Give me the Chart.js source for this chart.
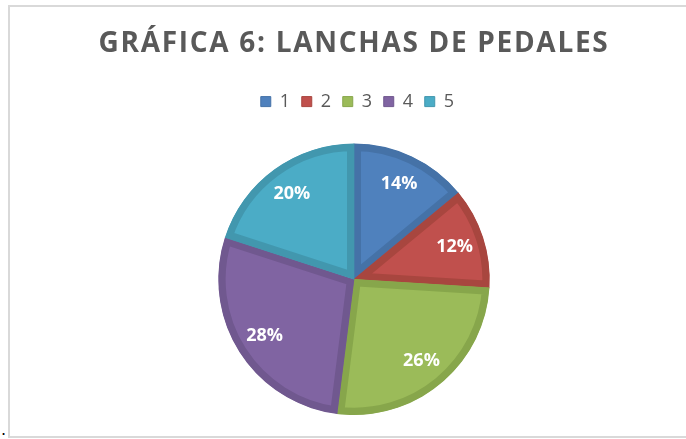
<!DOCTYPE html>
<html>
<head>
<meta charset="utf-8">
<script src="https://cdn.jsdelivr.net/npm/chart.js@4.4.0/dist/chart.umd.min.js"></script>
<style>
  html, body { margin: 0; padding: 0; background: #fff; }
  #wrap { position: relative; width: 686px; height: 439px; overflow: hidden; }
  #frame { position: absolute; left: 8px; top: 5px; width: 720px; height: 429px; border: 2px solid #d9d9d9; box-sizing: content-box; }
  #dot { position: absolute; left: 1px; top: 420px; font: 16px "DejaVu Sans"; color: #000; }
  canvas { position: absolute; left: 0; top: 0; }
</style>
</head>
<body>
<div id="wrap">
  <div id="frame"></div>
  <span id="dot">.</span>
  <canvas id="chart" width="686" height="439"></canvas>
</div>
<script>
// --- chart data ---
const categories = ['1', '2', '3', '4', '5'];
const shares = [14, 12, 26, 28, 20];
const fillColors = ['#4F81BD', '#C0504D', '#9BBB59', '#8064A2', '#4BACC6'];
const edgeColors = ['#4572A7', '#A8463F', '#87A64B', '#70588F', '#4297AE'];
const titleText = 'GRÁFICA 6: LANCHAS DE PEDALES';

// extra room under the legend, like the office chart
const legendGap = {
    id: 'legendGap',
    beforeInit(chart) {
        const fit = chart.legend.fit;
        chart.legend.fit = function () {
            fit.call(this);
            this.height += 23;
        };
    }
};

// spaced-out title letters
const titleSpacing = {
    id: 'titleSpacing',
    beforeDraw(chart) { chart.ctx.letterSpacing = '1.7px'; },
    beforeDatasetsDraw(chart) { chart.ctx.letterSpacing = '0px'; }
};

// white percentage labels inside each slice
const sliceLabels = {
    id: 'sliceLabels',
    afterDatasetsDraw(chart) {
        const ctx = chart.ctx;
        const meta = chart.getDatasetMeta(0);
        ctx.save();
        ctx.fillStyle = '#ffffff';
        ctx.font = 'bold 18px "Open Sans"';
        ctx.textAlign = 'center';
        ctx.textBaseline = 'middle';
        meta.data.forEach((arc, i) => {
            const p = arc.getProps(['x', 'y', 'startAngle', 'endAngle', 'outerRadius'], true);
            const mid = (p.startAngle + p.endAngle) / 2;
            const r = p.outerRadius * 0.78;
            ctx.fillText(shares[i] + '%', p.x + Math.cos(mid) * r, p.y + Math.sin(mid) * r);
        });
        ctx.restore();
    }
};

new Chart(document.getElementById('chart'), {
    type: 'pie',
    data: {
        labels: categories,
        datasets: [{
            data: shares,
            backgroundColor: fillColors,
            borderColor: edgeColors,
            borderWidth: 7,
            borderAlign: 'inner'
        }]
    },
    options: {
        responsive: false,
        animation: false,
        layout: { padding: { left: 22, right: 0, top: 0, bottom: 24 } },
        plugins: {
            title: {
                display: true,
                text: titleText,
                color: '#595959',
                font: { family: '"Open Sans"', size: 28, weight: 'bold' },
                padding: { top: 27, bottom: 22 }
            },
            legend: {
                position: 'top',
                labels: {
                    color: '#595959',
                    font: { family: '"Open Sans"', size: 18 },
                    boxWidth: 10,
                    boxHeight: 10,
                    padding: 10,
                    generateLabels(chart) {
                        return categories.map((name, i) => ({
                            text: name,
                            fillStyle: fillColors[i],
                            strokeStyle: edgeColors[i],
                            lineWidth: 1,
                            fontColor: '#595959',
                            hidden: false,
                            index: i
                        }));
                    }
                }
            },
            tooltip: { enabled: false }
        }
    },
    plugins: [legendGap, titleSpacing, sliceLabels]
});
</script>
</body>
</html>
